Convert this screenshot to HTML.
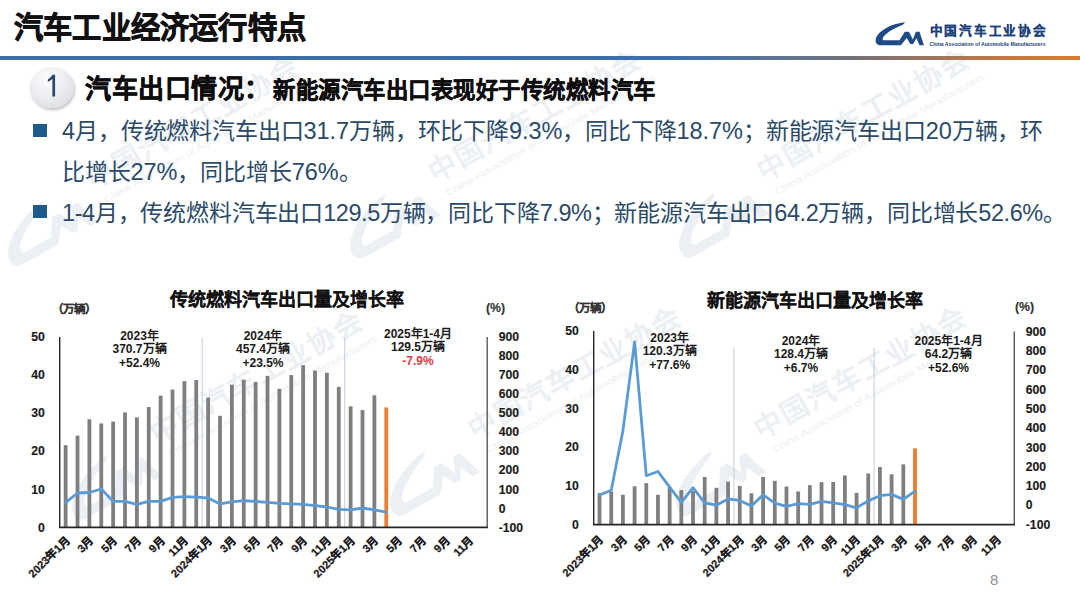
<!DOCTYPE html>
<html lang="zh-CN"><head><meta charset="utf-8">
<style>
html,body{margin:0;padding:0;background:#fff;}
body{width:1080px;height:607px;position:relative;overflow:hidden;font-family:'Liberation Sans', sans-serif;}
.abs{position:absolute;white-space:nowrap;}
#title{left:14px;top:3.8px;font-size:29.2px;letter-spacing:0.2px;font-weight:bold;color:#111;-webkit-text-stroke:0.8px #111;}
#hline{left:0;top:56px;width:1080px;height:4px;background:linear-gradient(90deg,#3A6EA8 0%,#3B6FAD 62%,#5F7390 72%,#6E6F78 78%,#9A7560 86%,#C27842 93%,#DC7A30 100%);}
#badge{left:30px;top:67px;width:44px;height:41px;border-radius:50%;
  background:radial-gradient(circle at 40% 30%,#FCFCFD 0%,#EEEFF2 40%,#DDDFE3 78%,#C8CACF 100%);
  box-shadow:1px 2px 3px rgba(0,0,0,0.25);}
#h1{left:85px;top:68px;font-size:26px;letter-spacing:0.5px;font-weight:bold;color:#0D0D0D;-webkit-text-stroke:0.5px #0D0D0D;}
#h1b{left:273px;top:72px;font-size:22.4px;letter-spacing:0.5px;font-weight:bold;color:#0D0D0D;-webkit-text-stroke:0.45px #0D0D0D;}
.bul{position:absolute;width:13.5px;height:12.5px;background:#1E5A8C;}
.txt{position:absolute;white-space:nowrap;font-size:22px;color:#2B4A68;}
.txt .cj{font-size:23px;} .txt .la{font-size:23.5px;}
svg text{font-family:'Liberation Sans', sans-serif;}
.ax{font-size:12.2px;font-weight:bold;fill:#1A1A1A;stroke:#1A1A1A;stroke-width:0.15px;}
.xl{font-size:11px;font-weight:bold;fill:#1A1A1A;stroke:#1A1A1A;stroke-width:0.25px;}
.ct{font-size:18px;font-weight:bold;fill:#111;stroke:#111;stroke-width:0.12px;}
.un{font-size:11.5px;font-weight:bold;fill:#333;stroke:#333;stroke-width:0.15px;} .pc{font-size:12.3px;font-weight:bold;fill:#333;stroke:#333;stroke-width:0.15px;}
.an{font-size:12px;font-weight:bold;}
</style></head>
<body>
<svg class="abs" style="left:0;top:0;opacity:1" width="1080" height="607"><g transform="translate(93,190) rotate(-29.3)" fill="#ECEFF3"><g transform="translate(-114,-23.5) scale(0.11)"><path d="M595,78 C380,95 120,220 68,370 C55,430 80,485 140,490 L445,490 L500,402 L215,402 C180,398 185,345 240,300 C340,215 460,160 560,118 Z"/><path d="M440,490 L590,248 L665,248 L735,385 L790,248 L855,248 L935,490 L855,490 L800,365 L740,468 L690,468 L625,358 L520,490 Z"/></g><text x="0" y="0" font-size="28" font-weight="bold" style="letter-spacing:2px">中国汽车工业协会</text><text x="5" y="18" font-size="9.5" textLength="238" lengthAdjust="spacingAndGlyphs">China Association of Automobile Manufacturers</text></g><g transform="translate(435,183) rotate(-29.3)" fill="#ECEFF3"><g transform="translate(-114,-23.5) scale(0.11)"><path d="M595,78 C380,95 120,220 68,370 C55,430 80,485 140,490 L445,490 L500,402 L215,402 C180,398 185,345 240,300 C340,215 460,160 560,118 Z"/><path d="M440,490 L590,248 L665,248 L735,385 L790,248 L855,248 L935,490 L855,490 L800,365 L740,468 L690,468 L625,358 L520,490 Z"/></g><text x="0" y="0" font-size="28" font-weight="bold" style="letter-spacing:2px">中国汽车工业协会</text><text x="5" y="18" font-size="9.5" textLength="238" lengthAdjust="spacingAndGlyphs">China Association of Automobile Manufacturers</text></g><g transform="translate(764,182) rotate(-29.3)" fill="#ECEFF3"><g transform="translate(-114,-23.5) scale(0.11)"><path d="M595,78 C380,95 120,220 68,370 C55,430 80,485 140,490 L445,490 L500,402 L215,402 C180,398 185,345 240,300 C340,215 460,160 560,118 Z"/><path d="M440,490 L590,248 L665,248 L735,385 L790,248 L855,248 L935,490 L855,490 L800,365 L740,468 L690,468 L625,358 L520,490 Z"/></g><text x="0" y="0" font-size="28" font-weight="bold" style="letter-spacing:2px">中国汽车工业协会</text><text x="5" y="18" font-size="9.5" textLength="238" lengthAdjust="spacingAndGlyphs">China Association of Automobile Manufacturers</text></g><g transform="translate(157,444) rotate(-29.3)" fill="#ECEFF3"><g transform="translate(-114,-23.5) scale(0.11)"><path d="M595,78 C380,95 120,220 68,370 C55,430 80,485 140,490 L445,490 L500,402 L215,402 C180,398 185,345 240,300 C340,215 460,160 560,118 Z"/><path d="M440,490 L590,248 L665,248 L735,385 L790,248 L855,248 L935,490 L855,490 L800,365 L740,468 L690,468 L625,358 L520,490 Z"/></g><text x="0" y="0" font-size="28" font-weight="bold" style="letter-spacing:2px">中国汽车工业协会</text><text x="5" y="18" font-size="9.5" textLength="238" lengthAdjust="spacingAndGlyphs">China Association of Automobile Manufacturers</text></g><g transform="translate(475,440) rotate(-29.3)" fill="#ECEFF3"><g transform="translate(-114,-23.5) scale(0.11)"><path d="M595,78 C380,95 120,220 68,370 C55,430 80,485 140,490 L445,490 L500,402 L215,402 C180,398 185,345 240,300 C340,215 460,160 560,118 Z"/><path d="M440,490 L590,248 L665,248 L735,385 L790,248 L855,248 L935,490 L855,490 L800,365 L740,468 L690,468 L625,358 L520,490 Z"/></g><text x="0" y="0" font-size="28" font-weight="bold" style="letter-spacing:2px">中国汽车工业协会</text><text x="5" y="18" font-size="9.5" textLength="238" lengthAdjust="spacingAndGlyphs">China Association of Automobile Manufacturers</text></g><g transform="translate(761,440) rotate(-29.3)" fill="#ECEFF3"><g transform="translate(-114,-23.5) scale(0.11)"><path d="M595,78 C380,95 120,220 68,370 C55,430 80,485 140,490 L445,490 L500,402 L215,402 C180,398 185,345 240,300 C340,215 460,160 560,118 Z"/><path d="M440,490 L590,248 L665,248 L735,385 L790,248 L855,248 L935,490 L855,490 L800,365 L740,468 L690,468 L625,358 L520,490 Z"/></g><text x="0" y="0" font-size="28" font-weight="bold" style="letter-spacing:2px">中国汽车工业协会</text><text x="5" y="18" font-size="9.5" textLength="238" lengthAdjust="spacingAndGlyphs">China Association of Automobile Manufacturers</text></g></svg>
<div id="title" class="abs">汽车工业经济运行特点</div>
<div id="hline" class="abs"></div>
<div id="badge" class="abs"><svg width="44" height="41" viewBox="0 0 44 41" style="position:absolute;left:0;top:0"><path d="M22.4,7.8 L25.1,7.8 L25.1,29.4 L22.4,29.4 L22.4,12.0 C21.2,13.2 19.6,14.2 17.8,14.8 L17.8,12.4 C19.6,11.6 21.2,10.0 22.4,7.8 Z" fill="#2C4870"/></svg></div>
<div id="h1" class="abs">汽车出口情况：</div>
<div id="h1b" class="abs">新能源汽车出口表现好于传统燃料汽车</div>
<div class="bul" style="left:33.3px;top:124.4px"></div>
<div class="txt" id="t1" style="left:62px;top:112px"><span class="la" style="letter-spacing:-0.06px">4</span><span class="cj" style="letter-spacing:-0.15px">月，传统燃料汽车出口</span><span class="la" style="letter-spacing:-0.06px">31.7</span><span class="cj" style="letter-spacing:-0.15px">万辆，环比下降</span><span class="la" style="letter-spacing:-0.06px">9.3%</span><span class="cj" style="letter-spacing:-0.15px">，同比下降</span><span class="la" style="letter-spacing:-0.06px">18.7%</span><span class="cj" style="letter-spacing:-0.15px">；新能源汽车出口</span><span class="la" style="letter-spacing:-0.06px">20</span><span class="cj" style="letter-spacing:-0.15px">万辆，环</span></div>
<div class="txt" id="t2" style="left:62px;top:153px"><span class="cj" style="letter-spacing:-0.15px">比增长</span><span class="la" style="letter-spacing:-0.06px">27%</span><span class="cj" style="letter-spacing:-0.15px">，同比增长</span><span class="la" style="letter-spacing:-0.06px">76%</span><span class="cj" style="letter-spacing:-0.15px">。</span></div>
<div class="bul" style="left:33.3px;top:205.2px"></div>
<div class="txt" id="t3" style="left:62px;top:193.5px"><span class="la" style="letter-spacing:-0.44px">1-4</span><span class="cj" style="letter-spacing:-0.15px">月，传统燃料汽车出口</span><span class="la" style="letter-spacing:-0.44px">129.5</span><span class="cj" style="letter-spacing:-0.15px">万辆，同比下降</span><span class="la" style="letter-spacing:-0.44px">7.9%</span><span class="cj" style="letter-spacing:-0.15px">；新能源汽车出口</span><span class="la" style="letter-spacing:-0.44px">64.2</span><span class="cj" style="letter-spacing:-0.15px">万辆，同比增长</span><span class="la" style="letter-spacing:-0.44px">52.6%</span><span class="cj" style="letter-spacing:-0.15px">。</span></div>
<svg class="abs" style="left:0;top:0" width="1080" height="607" viewBox="0 0 1080 607">
<g transform="translate(872,18) scale(0.05556)"><path d="M595,78 C380,95 120,220 68,370 C55,430 80,485 140,490 L445,490 L500,402 L215,402 C180,398 185,345 240,300 C340,215 460,160 560,118 Z" fill="#1F4A86"/><path d="M440,490 L590,248 L665,248 L735,385 L790,248 L855,248 L935,490 L855,490 L800,365 L740,468 L690,468 L625,358 L520,490 Z" fill="#1F4A86"/></g>
<text x="929.5" y="35.3" font-size="12.6" font-weight="bold" fill="#1C417C" stroke="#1C417C" stroke-width="0.2" style="letter-spacing:1.75px">中国汽车工业协会</text>
<text x="929.5" y="45.8" font-size="5.2" font-weight="bold" fill="#1C417C" textLength="116" lengthAdjust="spacingAndGlyphs">China Association of Automobile Manufacturers</text>
<line x1="202.20" y1="337.5" x2="202.20" y2="527.4" stroke="#B4C0D0" stroke-width="0.8"/>
<line x1="344.70" y1="337.5" x2="344.70" y2="527.4" stroke="#B4C0D0" stroke-width="0.8"/>
<rect x="63.74" y="445.15" width="3.8" height="82.25" fill="#7F7F7F"/>
<rect x="75.61" y="435.63" width="3.8" height="91.77" fill="#7F7F7F"/>
<rect x="87.49" y="419.25" width="3.8" height="108.15" fill="#7F7F7F"/>
<rect x="99.36" y="423.44" width="3.8" height="103.96" fill="#7F7F7F"/>
<rect x="111.24" y="421.54" width="3.8" height="105.86" fill="#7F7F7F"/>
<rect x="123.11" y="412.40" width="3.8" height="115.00" fill="#7F7F7F"/>
<rect x="134.99" y="417.35" width="3.8" height="110.05" fill="#7F7F7F"/>
<rect x="146.86" y="407.07" width="3.8" height="120.33" fill="#7F7F7F"/>
<rect x="158.74" y="395.64" width="3.8" height="131.76" fill="#7F7F7F"/>
<rect x="170.61" y="389.55" width="3.8" height="137.85" fill="#7F7F7F"/>
<rect x="182.49" y="381.17" width="3.8" height="146.23" fill="#7F7F7F"/>
<rect x="194.36" y="380.03" width="3.8" height="147.37" fill="#7F7F7F"/>
<rect x="206.24" y="397.55" width="3.8" height="129.85" fill="#7F7F7F"/>
<rect x="218.11" y="415.83" width="3.8" height="111.57" fill="#7F7F7F"/>
<rect x="229.99" y="384.60" width="3.8" height="142.80" fill="#7F7F7F"/>
<rect x="241.86" y="379.65" width="3.8" height="147.75" fill="#7F7F7F"/>
<rect x="253.74" y="381.93" width="3.8" height="145.47" fill="#7F7F7F"/>
<rect x="265.61" y="375.84" width="3.8" height="151.56" fill="#7F7F7F"/>
<rect x="277.49" y="388.79" width="3.8" height="138.61" fill="#7F7F7F"/>
<rect x="289.36" y="375.08" width="3.8" height="152.32" fill="#7F7F7F"/>
<rect x="301.24" y="365.18" width="3.8" height="162.22" fill="#7F7F7F"/>
<rect x="313.11" y="370.51" width="3.8" height="156.89" fill="#7F7F7F"/>
<rect x="324.99" y="372.80" width="3.8" height="154.60" fill="#7F7F7F"/>
<rect x="336.86" y="386.88" width="3.8" height="140.52" fill="#7F7F7F"/>
<rect x="348.74" y="406.31" width="3.8" height="121.09" fill="#7F7F7F"/>
<rect x="360.61" y="410.11" width="3.8" height="117.29" fill="#7F7F7F"/>
<rect x="372.49" y="395.26" width="3.8" height="132.14" fill="#7F7F7F"/>
<rect x="384.36" y="407.45" width="3.8" height="119.95" fill="#ED7D31"/>
<polyline points="65.64,502.60 77.51,493.00 89.39,492.50 101.26,489.00 113.14,501.40 125.01,501.40 136.89,504.40 148.76,501.40 160.64,501.40 172.51,497.40 184.39,496.70 196.26,497.10 208.14,498.00 220.01,503.90 231.89,501.90 243.76,500.60 255.64,501.50 267.51,502.40 279.39,503.30 291.26,503.90 303.14,504.30 315.01,505.70 326.89,507.00 338.76,509.30 350.64,509.80 362.51,508.00 374.39,509.80 386.26,512.20" fill="none" stroke="#5B9BD5" stroke-width="2.8" stroke-linejoin="round" stroke-linecap="round"/>
<line x1="59.7" y1="337.0" x2="59.7" y2="527.4" stroke="#262626" stroke-width="1.4"/>
<line x1="487.2" y1="337.0" x2="487.2" y2="527.4" stroke="#595959" stroke-width="1.4"/>
<line x1="59.0" y1="527.4" x2="487.9" y2="527.4" stroke="#262626" stroke-width="1.6"/>
<text x="44.7" y="531.60" text-anchor="end" class="ax">0</text>
<text x="44.7" y="493.52" text-anchor="end" class="ax">10</text>
<text x="44.7" y="455.44" text-anchor="end" class="ax">20</text>
<text x="44.7" y="417.36" text-anchor="end" class="ax">30</text>
<text x="44.7" y="379.28" text-anchor="end" class="ax">40</text>
<text x="44.7" y="341.20" text-anchor="end" class="ax">50</text>
<text x="498.7" y="341.20" class="ax">900</text>
<text x="498.7" y="360.24" class="ax">800</text>
<text x="498.7" y="379.28" class="ax">700</text>
<text x="498.7" y="398.32" class="ax">600</text>
<text x="498.7" y="417.36" class="ax">500</text>
<text x="498.7" y="436.40" class="ax">400</text>
<text x="498.7" y="455.44" class="ax">300</text>
<text x="498.7" y="474.48" class="ax">200</text>
<text x="498.7" y="493.52" class="ax">100</text>
<text x="498.7" y="512.56" class="ax">0</text>
<text x="498.7" y="531.60" class="ax">-100</text>
<text transform="translate(64.64,535.40) rotate(-45)" x="0" y="8" text-anchor="end" class="xl">2023年1月</text>
<text transform="translate(88.39,535.40) rotate(-45)" x="0" y="8" text-anchor="end" class="xl">3月</text>
<text transform="translate(112.14,535.40) rotate(-45)" x="0" y="8" text-anchor="end" class="xl">5月</text>
<text transform="translate(135.89,535.40) rotate(-45)" x="0" y="8" text-anchor="end" class="xl">7月</text>
<text transform="translate(159.64,535.40) rotate(-45)" x="0" y="8" text-anchor="end" class="xl">9月</text>
<text transform="translate(183.39,535.40) rotate(-45)" x="0" y="8" text-anchor="end" class="xl">11月</text>
<text transform="translate(207.14,535.40) rotate(-45)" x="0" y="8" text-anchor="end" class="xl">2024年1月</text>
<text transform="translate(230.89,535.40) rotate(-45)" x="0" y="8" text-anchor="end" class="xl">3月</text>
<text transform="translate(254.64,535.40) rotate(-45)" x="0" y="8" text-anchor="end" class="xl">5月</text>
<text transform="translate(278.39,535.40) rotate(-45)" x="0" y="8" text-anchor="end" class="xl">7月</text>
<text transform="translate(302.14,535.40) rotate(-45)" x="0" y="8" text-anchor="end" class="xl">9月</text>
<text transform="translate(325.89,535.40) rotate(-45)" x="0" y="8" text-anchor="end" class="xl">11月</text>
<text transform="translate(349.64,535.40) rotate(-45)" x="0" y="8" text-anchor="end" class="xl">2025年1月</text>
<text transform="translate(373.39,535.40) rotate(-45)" x="0" y="8" text-anchor="end" class="xl">3月</text>
<text transform="translate(397.14,535.40) rotate(-45)" x="0" y="8" text-anchor="end" class="xl">5月</text>
<text transform="translate(420.89,535.40) rotate(-45)" x="0" y="8" text-anchor="end" class="xl">7月</text>
<text transform="translate(444.64,535.40) rotate(-45)" x="0" y="8" text-anchor="end" class="xl">9月</text>
<text transform="translate(468.39,535.40) rotate(-45)" x="0" y="8" text-anchor="end" class="xl">11月</text>
<text x="170" y="305.5" class="ct">传统燃料汽车出口量及增长率</text>
<text x="52" y="313" class="un">（万辆）</text>
<text x="486" y="312" class="pc">(%)</text>
<text x="139.5" y="339.80" text-anchor="middle" class="an" fill="#1A1A1A">2023年</text>
<text x="139.5" y="353.20" text-anchor="middle" class="an" fill="#1A1A1A">370.7万辆</text>
<text x="139.5" y="366.60" text-anchor="middle" class="an" fill="#1A1A1A">+52.4%</text>
<text x="263" y="339.80" text-anchor="middle" class="an" fill="#1A1A1A">2024年</text>
<text x="263" y="353.20" text-anchor="middle" class="an" fill="#1A1A1A">457.4万辆</text>
<text x="263" y="366.60" text-anchor="middle" class="an" fill="#1A1A1A">+23.5%</text>
<text x="418" y="337.80" text-anchor="middle" class="an" fill="#1A1A1A">2025年1-4月</text>
<text x="418" y="351.20" text-anchor="middle" class="an" fill="#1A1A1A">129.5万辆</text>
<text x="418" y="364.60" text-anchor="middle" class="an" fill="#E8383D">-7.9%</text>
<line x1="733.90" y1="347.5" x2="733.90" y2="524.6" stroke="#B4C0D0" stroke-width="0.8"/>
<line x1="874.10" y1="347.5" x2="874.10" y2="524.6" stroke="#B4C0D0" stroke-width="0.8"/>
<rect x="597.64" y="493.04" width="3.8" height="31.56" fill="#7F7F7F"/>
<rect x="609.33" y="491.69" width="3.8" height="32.91" fill="#7F7F7F"/>
<rect x="621.01" y="494.79" width="3.8" height="29.81" fill="#7F7F7F"/>
<rect x="632.69" y="486.27" width="3.8" height="38.33" fill="#7F7F7F"/>
<rect x="644.38" y="483.17" width="3.8" height="41.43" fill="#7F7F7F"/>
<rect x="656.06" y="494.79" width="3.8" height="29.81" fill="#7F7F7F"/>
<rect x="667.74" y="487.04" width="3.8" height="37.56" fill="#7F7F7F"/>
<rect x="679.43" y="490.14" width="3.8" height="34.46" fill="#7F7F7F"/>
<rect x="691.11" y="490.91" width="3.8" height="33.69" fill="#7F7F7F"/>
<rect x="702.79" y="476.97" width="3.8" height="47.63" fill="#7F7F7F"/>
<rect x="714.48" y="487.82" width="3.8" height="36.78" fill="#7F7F7F"/>
<rect x="726.16" y="481.62" width="3.8" height="42.98" fill="#7F7F7F"/>
<rect x="737.84" y="485.88" width="3.8" height="38.72" fill="#7F7F7F"/>
<rect x="749.52" y="493.24" width="3.8" height="31.36" fill="#7F7F7F"/>
<rect x="761.21" y="476.97" width="3.8" height="47.63" fill="#7F7F7F"/>
<rect x="772.89" y="480.85" width="3.8" height="43.75" fill="#7F7F7F"/>
<rect x="784.58" y="486.46" width="3.8" height="38.14" fill="#7F7F7F"/>
<rect x="796.26" y="491.46" width="3.8" height="33.14" fill="#7F7F7F"/>
<rect x="807.94" y="485.11" width="3.8" height="39.49" fill="#7F7F7F"/>
<rect x="819.62" y="482.20" width="3.8" height="42.40" fill="#7F7F7F"/>
<rect x="831.31" y="482.01" width="3.8" height="42.59" fill="#7F7F7F"/>
<rect x="842.99" y="475.43" width="3.8" height="49.17" fill="#7F7F7F"/>
<rect x="854.68" y="492.85" width="3.8" height="31.75" fill="#7F7F7F"/>
<rect x="866.36" y="473.49" width="3.8" height="51.11" fill="#7F7F7F"/>
<rect x="878.04" y="467.06" width="3.8" height="57.54" fill="#7F7F7F"/>
<rect x="889.73" y="474.26" width="3.8" height="50.34" fill="#7F7F7F"/>
<rect x="901.41" y="464.39" width="3.8" height="60.21" fill="#7F7F7F"/>
<rect x="913.09" y="448.32" width="3.8" height="76.28" fill="#ED7D31"/>
<polyline points="599.54,495.00 611.23,490.20 622.91,430.80 634.59,341.90 646.28,475.70 657.96,471.50 669.64,487.20 681.33,502.30 693.01,487.70 704.69,503.00 716.38,505.20 728.06,499.00 739.74,500.40 751.42,505.90 763.11,494.80 774.79,503.10 786.48,506.30 798.16,503.70 809.84,504.40 821.52,501.30 833.21,502.80 844.89,504.60 856.58,507.80 868.26,500.90 879.94,495.70 891.62,494.40 903.31,499.40 914.99,491.10" fill="none" stroke="#5B9BD5" stroke-width="2.8" stroke-linejoin="round" stroke-linecap="round"/>
<line x1="593.7" y1="331.0" x2="593.7" y2="524.6" stroke="#262626" stroke-width="1.4"/>
<line x1="1014.3" y1="331.5" x2="1014.3" y2="524.6" stroke="#595959" stroke-width="1.4"/>
<line x1="593.0" y1="524.6" x2="1015.0" y2="524.6" stroke="#262626" stroke-width="1.6"/>
<text x="578.7" y="528.80" text-anchor="end" class="ax">0</text>
<text x="578.7" y="490.08" text-anchor="end" class="ax">10</text>
<text x="578.7" y="451.36" text-anchor="end" class="ax">20</text>
<text x="578.7" y="412.64" text-anchor="end" class="ax">30</text>
<text x="578.7" y="373.92" text-anchor="end" class="ax">40</text>
<text x="578.7" y="335.20" text-anchor="end" class="ax">50</text>
<text x="1025.8" y="335.70" class="ax">900</text>
<text x="1025.8" y="355.01" class="ax">800</text>
<text x="1025.8" y="374.32" class="ax">700</text>
<text x="1025.8" y="393.63" class="ax">600</text>
<text x="1025.8" y="412.94" class="ax">500</text>
<text x="1025.8" y="432.25" class="ax">400</text>
<text x="1025.8" y="451.56" class="ax">300</text>
<text x="1025.8" y="470.87" class="ax">200</text>
<text x="1025.8" y="490.18" class="ax">100</text>
<text x="1025.8" y="509.49" class="ax">0</text>
<text x="1025.8" y="528.80" class="ax">-100</text>
<text transform="translate(598.54,534.60) rotate(-45)" x="0" y="8" text-anchor="end" class="xl">2023年1月</text>
<text transform="translate(621.91,534.60) rotate(-45)" x="0" y="8" text-anchor="end" class="xl">3月</text>
<text transform="translate(645.28,534.60) rotate(-45)" x="0" y="8" text-anchor="end" class="xl">5月</text>
<text transform="translate(668.64,534.60) rotate(-45)" x="0" y="8" text-anchor="end" class="xl">7月</text>
<text transform="translate(692.01,534.60) rotate(-45)" x="0" y="8" text-anchor="end" class="xl">9月</text>
<text transform="translate(715.38,534.60) rotate(-45)" x="0" y="8" text-anchor="end" class="xl">11月</text>
<text transform="translate(738.74,534.60) rotate(-45)" x="0" y="8" text-anchor="end" class="xl">2024年1月</text>
<text transform="translate(762.11,534.60) rotate(-45)" x="0" y="8" text-anchor="end" class="xl">3月</text>
<text transform="translate(785.48,534.60) rotate(-45)" x="0" y="8" text-anchor="end" class="xl">5月</text>
<text transform="translate(808.84,534.60) rotate(-45)" x="0" y="8" text-anchor="end" class="xl">7月</text>
<text transform="translate(832.21,534.60) rotate(-45)" x="0" y="8" text-anchor="end" class="xl">9月</text>
<text transform="translate(855.58,534.60) rotate(-45)" x="0" y="8" text-anchor="end" class="xl">11月</text>
<text transform="translate(878.94,534.60) rotate(-45)" x="0" y="8" text-anchor="end" class="xl">2025年1月</text>
<text transform="translate(902.31,534.60) rotate(-45)" x="0" y="8" text-anchor="end" class="xl">3月</text>
<text transform="translate(925.67,534.60) rotate(-45)" x="0" y="8" text-anchor="end" class="xl">5月</text>
<text transform="translate(949.04,534.60) rotate(-45)" x="0" y="8" text-anchor="end" class="xl">7月</text>
<text transform="translate(972.41,534.60) rotate(-45)" x="0" y="8" text-anchor="end" class="xl">9月</text>
<text transform="translate(995.77,534.60) rotate(-45)" x="0" y="8" text-anchor="end" class="xl">11月</text>
<text x="707" y="306.5" class="ct">新能源汽车出口量及增长率</text>
<text x="568" y="312" class="un">（万辆）</text>
<text x="1015" y="311" class="pc">(%)</text>
<text x="669.7" y="341.80" text-anchor="middle" class="an" fill="#1A1A1A">2023年</text>
<text x="669.7" y="355.20" text-anchor="middle" class="an" fill="#1A1A1A">120.3万辆</text>
<text x="669.7" y="368.60" text-anchor="middle" class="an" fill="#1A1A1A">+77.6%</text>
<text x="801" y="344.80" text-anchor="middle" class="an" fill="#1A1A1A">2024年</text>
<text x="801" y="358.20" text-anchor="middle" class="an" fill="#1A1A1A">128.4万辆</text>
<text x="801" y="371.60" text-anchor="middle" class="an" fill="#1A1A1A">+6.7%</text>
<text x="948.5" y="344.80" text-anchor="middle" class="an" fill="#1A1A1A">2025年1-4月</text>
<text x="948.5" y="358.20" text-anchor="middle" class="an" fill="#1A1A1A">64.2万辆</text>
<text x="948.5" y="371.60" text-anchor="middle" class="an" fill="#1A1A1A">+52.6%</text>
<text x="990" y="584.7" font-size="15" fill="#8F8F8F">8</text>
</svg>
</body></html>
